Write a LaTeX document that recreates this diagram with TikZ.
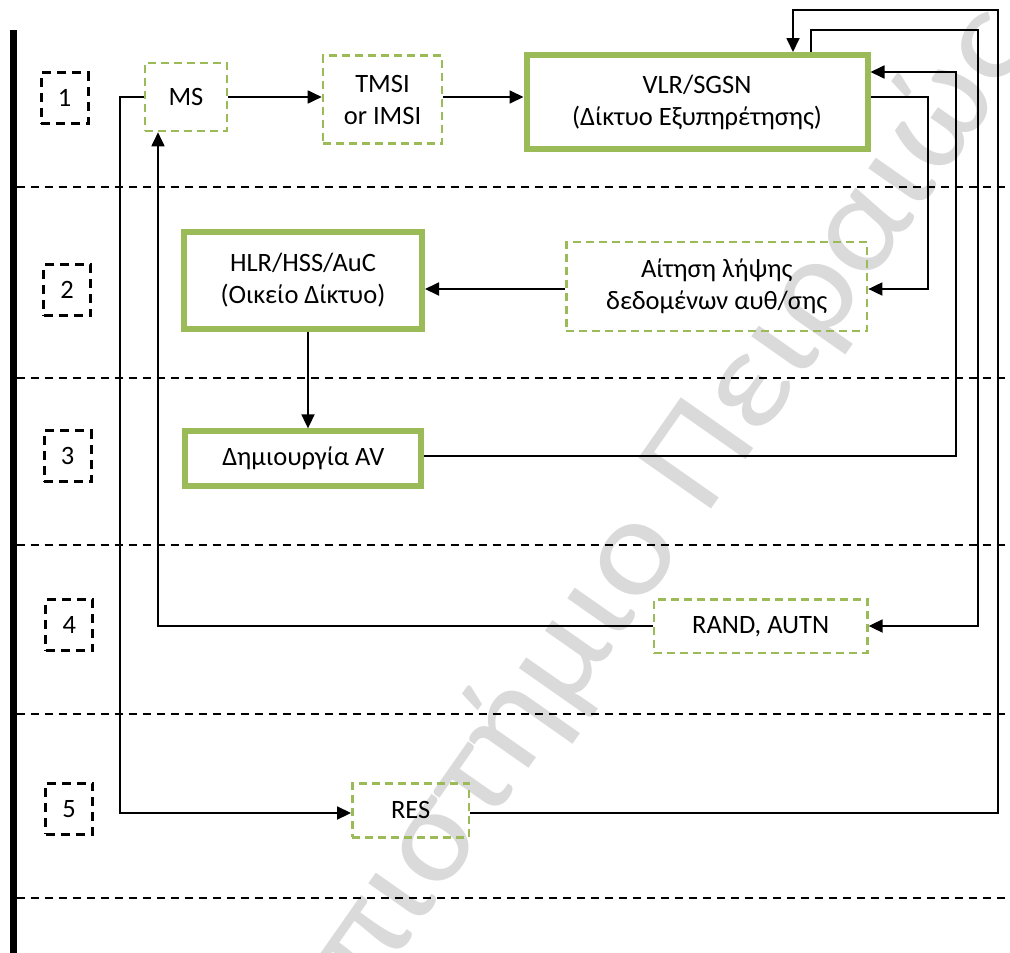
\documentclass[tikz,border=0pt]{standalone}
\usepackage{fontspec}
\setmainfont{Carlito}
\usetikzlibrary{arrows.meta}
\definecolor{grn}{RGB}{155,187,89}
\definecolor{wm}{RGB}{218,218,218}
\begin{document}
\begin{tikzpicture}[x=1pt,y=-1pt,
  font=\fontsize{26.5}{32}\selectfont,
  gsolid/.style={draw=grn, line width=6pt, inner sep=0pt, align=center},
  gdash/.style={draw=grn, line width=2.6pt, dash pattern=on 8pt off 5pt, inner sep=0pt, align=center},
  stepbox/.style={draw=black, line width=2.8pt, dash pattern=on 9pt off 6pt, inner sep=0pt, minimum width=47pt, minimum height=51pt},
  sepline/.style={line width=2pt, dash pattern=on 8pt off 6pt},
  conn/.style={line width=1.8pt},
  arr/.style={conn, -{Triangle[length=14pt,width=13pt]}}]
\useasboundingbox (0,0) rectangle (1010,953);
\begin{scope}
\clip (0,0) rectangle (1010,953);
\begin{scope}[shift={(705,518)}]
\node[rotate=55, xscale=1.1, anchor=base west, inner sep=0pt, text=wm, font=\fontsize{138}{138}\selectfont] (wmark) at (0,0) {\llap{Πανεπιστήμιο\ }Πειραιώς};
\end{scope}
\end{scope}
% left bar and separators
\draw[line width=6.5pt] (13.3,30) -- (13.3,953);
\foreach \yy in {187,378,545,713.5,898} \draw[sepline] (16.5,\yy) -- (1010,\yy);
% step boxes
\node[stepbox] (s1) at (64.7,98.3) {1};
\node[stepbox] (s2) at (67,290) {2};
\node[stepbox] (s3) at (67.7,456.3) {3};
\node[stepbox] (s4) at (69.3,625) {4};
\node[stepbox] (s5) at (69,808.8) {5};
% main nodes
\node[gdash, minimum width=82pt, minimum height=68pt] (MS) at (186,97) {MS};
\node[gdash, minimum width=119pt, minimum height=88pt] (TMSI) at (382.5,99.5) {TMSI\\or IMSI};
\node[gsolid, minimum width=341pt, minimum height=94pt] (VLR) at (697,102) {VLR/SGSN\\(Δίκτυο Εξυπηρέτησης)};
\node[gsolid, minimum width=238pt, minimum height=97pt] (HLR) at (303,280.5) {HLR/HSS/AuC\\(Οικείο Δίκτυο)};
\node[gdash, minimum width=300.7pt, minimum height=89pt] (AIT) at (716.7,286.5) {Αίτηση λήψης\\δεδομένων αυθ/σης};
\node[gsolid, minimum width=236pt, minimum height=54.7pt] (AV) at (303.3,458.7) {Δημιουργία AV};
\node[gdash, minimum width=213.3pt, minimum height=53.3pt] (RAND) at (760.7,626.3) {RAND, AUTN};
\node[gdash, minimum width=116.7pt, minimum height=54pt] (RES) at (410.7,810.4) {RES};
% connectors
\draw[arr] (MS.east) -- (MS.east -| TMSI.west);
\draw[arr] (TMSI.east |- MS.east) -- (VLR.west |- MS.east);
\draw[arr] (VLR.east |- 0,97) -- (928,97) -- (928,289) -- (AIT.east |- 0,289);
\draw[arr] (AIT.west |- 0,289) -- (HLR.east |- 0,289);
\draw[arr] (HLR.south -| 308,0) -- (AV.north -| 308,0);
\draw[arr] (AV.east |- 0,456) -- (955.7,456) -- (955.7,72) -- (VLR.east |- 0,72);
\draw[arr] (VLR.north -| 811,0) -- (811,30) -- (978,30) -- (978,626) -- (RAND.east |- 0,626);
\draw[arr] (RAND.west |- 0,626) -- (158,626) -- (MS.south -| 158,0);
\draw[arr] (MS.west) -- (120,97) -- (120,813) -- (RES.west |- 0,813);
\draw[arr] (RES.east |- 0,813) -- (998,813) -- (998,10) -- (793,10) -- (VLR.north -| 793,0);
\end{tikzpicture}
\end{document}
